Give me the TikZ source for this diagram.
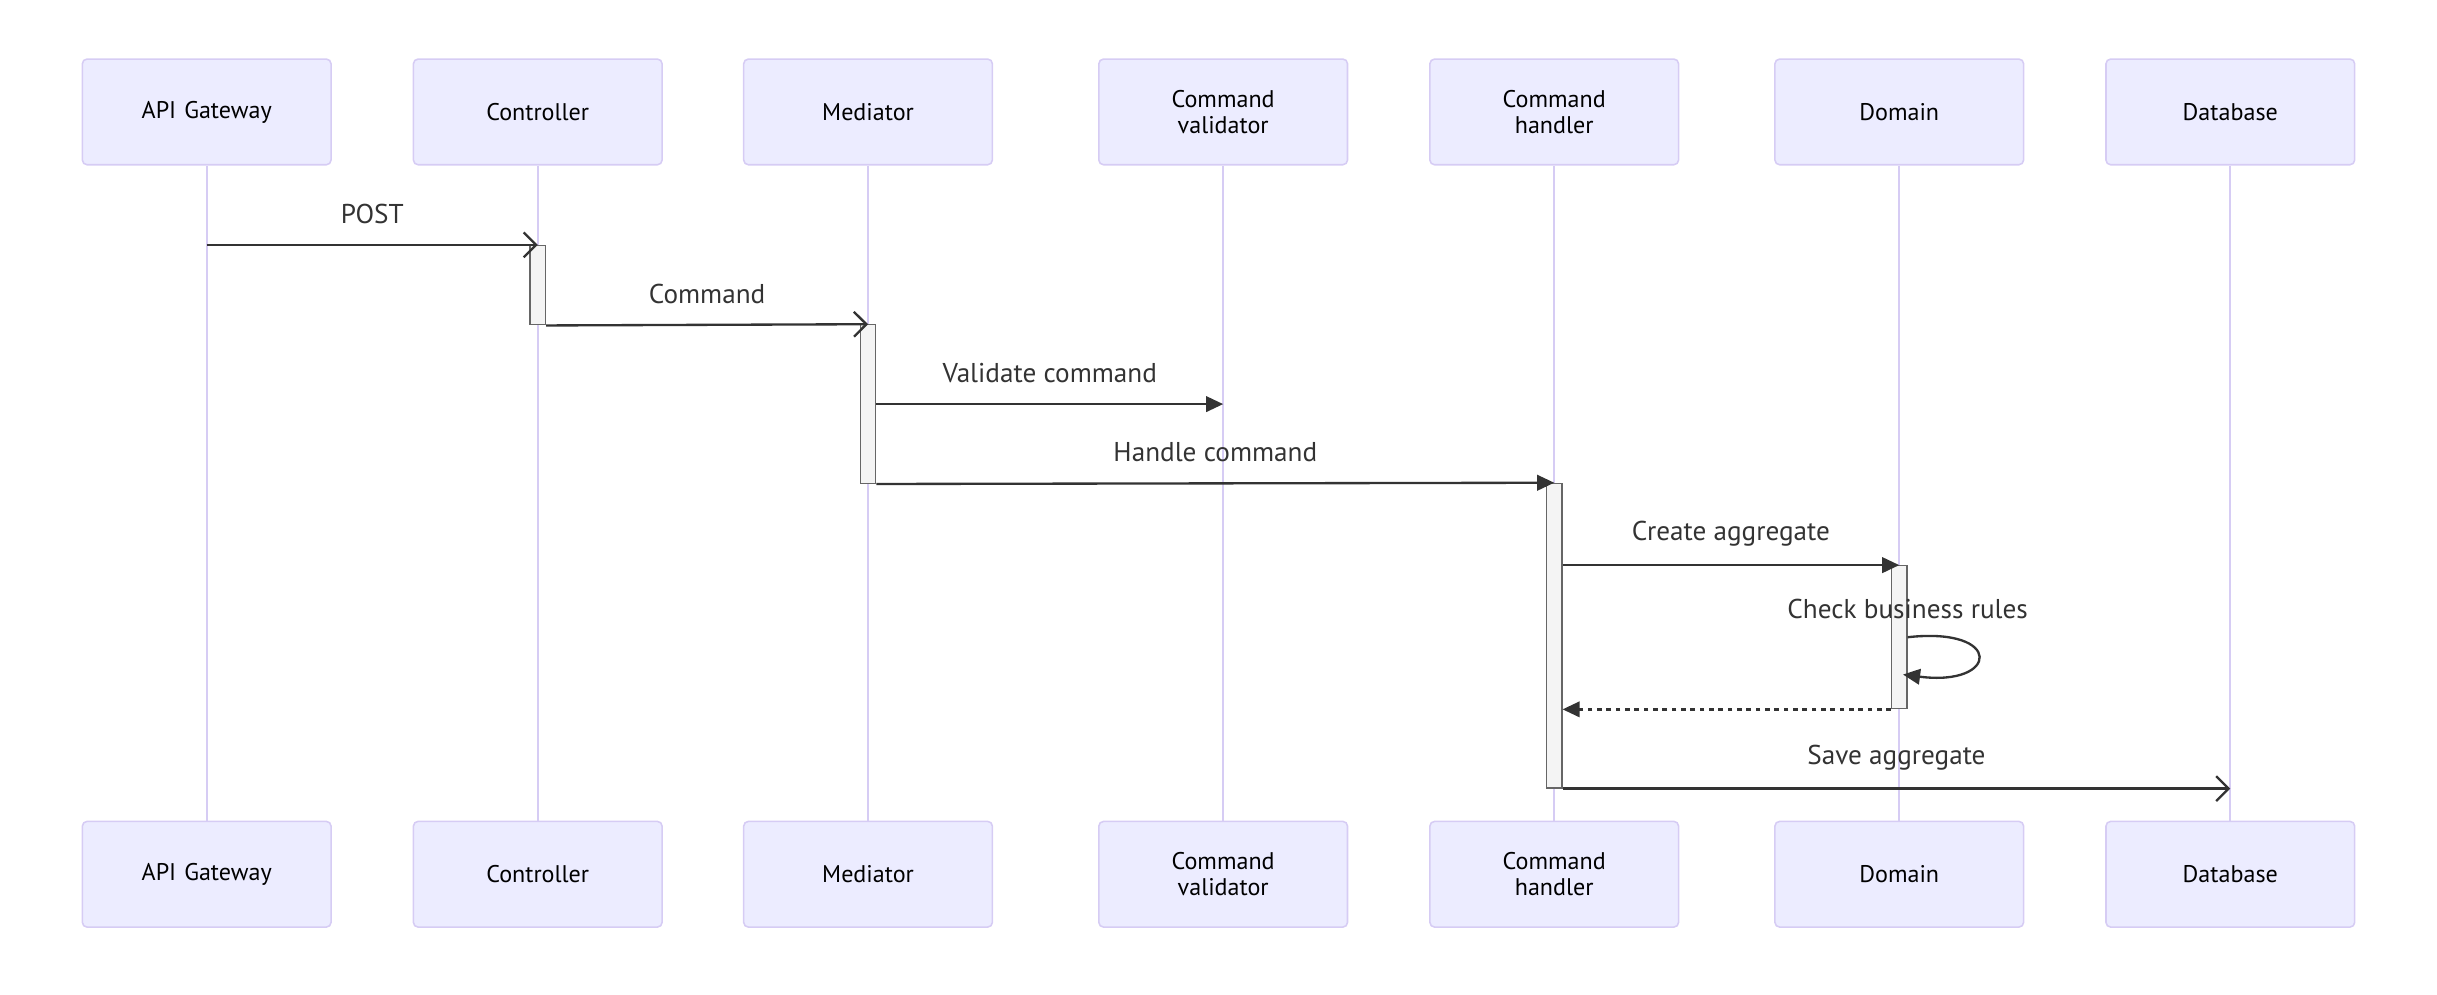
\documentclass[tikz,border=0pt]{standalone}
\usepackage{fontspec}
\setmainfont{PT Sans}
\usetikzlibrary{arrows.meta, positioning}
\definecolor{actfill}{HTML}{ECECFF}
\definecolor{actline}{HTML}{D6CCF4}
\definecolor{barfill}{HTML}{F4F4F4}
\definecolor{barline}{HTML}{666666}
\definecolor{msgcol}{HTML}{333333}
\tikzstyle{actor} = [rectangle, draw=actline, fill=actfill, line width=1pt, rounded corners=3pt, minimum width=160pt, minimum height=68pt, text width=150pt, align=center, font=\fontsize{15.5}{17}\selectfont]
\tikzstyle{actbar} = [rectangle, draw=barline, fill=barfill, line width=0.8pt, minimum width=10pt, inner sep=0pt]
\tikzstyle{lifeline} = [draw=actline, line width=1.3pt]
\tikzstyle{msg} = [draw=msgcol, line width=1.5pt, -{Triangle[length=11pt,width=10pt]}]
\tikzstyle{openmsg} = [draw=msgcol, line width=1.5pt, -{Straight Barb[length=8pt,width=16pt]}]
\tikzstyle{lbl} = [text=msgcol, yshift=20pt, font=\fontsize{17.5}{19}\selectfont]

\begin{document}
\begin{tikzpicture}[x=1pt, y=-1pt]
    \useasboundingbox (0,0) rectangle (1568,640);
    % participants
    \node (gw) [actor] at (133,72) {API Gateway};
    \node (ctl) [actor] at (346,72) {Controller};
    \node (med) [actor] at (558.5,72) {Mediator};
    \node (val) [actor] at (787,72) {Command\\validator};
    \node (hdl) [actor] at (1000,72) {Command\\handler};
    \node (dom) [actor] at (1222,72) {Domain};
    \node (db) [actor] at (1435,72) {Database};

    \node (gwb) [actor] at (133,562.5) {API Gateway};
    \node (ctlb) [actor] at (346,562.5) {Controller};
    \node (medb) [actor] at (558.5,562.5) {Mediator};
    \node (valb) [actor] at (787,562.5) {Command\\validator};
    \node (hdlb) [actor] at (1000,562.5) {Command\\handler};
    \node (domb) [actor] at (1222,562.5) {Domain};
    \node (dbb) [actor] at (1435,562.5) {Database};

    % lifelines
    \draw [lifeline] (gw) -- (gwb);
    \draw [lifeline] (ctl) -- (ctlb);
    \draw [lifeline] (med) -- (medb);
    \draw [lifeline] (val) -- (valb);
    \draw [lifeline] (hdl) -- (hdlb);
    \draw [lifeline] (dom) -- (domb);
    \draw [lifeline] (db) -- (dbb);

    % activations
    \node (a1) [actbar, minimum height=51pt] at (346,183.5) {};
    \node (a2) [actbar, minimum height=102pt] at (558.5,260) {};
    \node (a3) [actbar, minimum height=196pt] at (1000,409) {};
    \node (a4) [actbar, minimum height=92pt] at (1222,410) {};

    % messages
    \draw [openmsg] (gw.south |- a1.north) -- node[lbl] {POST} (a1.north);
    \draw [openmsg] (a1.south east) -- node[lbl] {Command} (a2.north);
    \draw [msg] (a2.east) -- node[lbl] {Validate command} (a2.east -| val.south);
    \draw [msg] (a2.south east) -- node[lbl] {Handle command} (a3.north);
    \draw [msg] (a3.east |- a4.north) -- node[lbl] {Create aggregate} (a4.north);
    \draw [msg] (a4.east) node[lbl, yshift=-2pt] {Check business rules} .. controls +(62,-7) and +(62,8) .. ([xshift=-3pt, yshift=-24pt]a4.east);
    \draw [msg, dash pattern=on 3pt off 3pt] (a4.south west) -- (a3.east |- a4.south);
    \draw [openmsg] (a3.south east) -- node[lbl] {Save aggregate} (a3.south east -| db.south);
\end{tikzpicture}
\end{document}
